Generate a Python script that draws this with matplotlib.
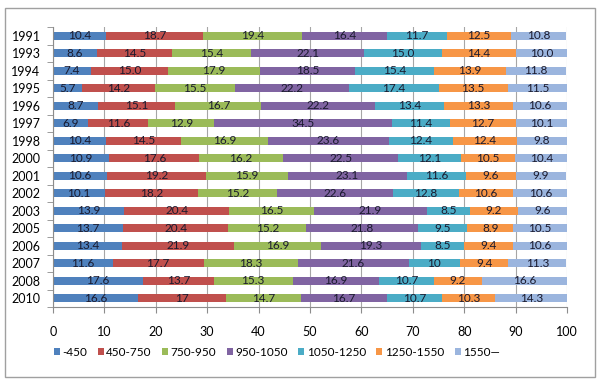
import numpy as np
import matplotlib.pyplot as plt
from matplotlib.patches import Rectangle, Patch

plt.rcParams['font.family'] = ['Lato', 'DejaVu Sans']

years = ['1991', '1993', '1994', '1995', '1996', '1997', '1998', '2000',
         '2001', '2002', '2003', '2005', '2006', '2007', '2008', '2010']

groups = ['-450', '450-750', '750-950', '950-1050', '1050-1250', '1250-1550', '1550\u2014']

# share of each group per year (ints are shown without decimals, as in the source)
s_450 = [10.4, 8.6, 7.4, 5.7, 8.7, 6.9, 10.4, 10.9, 10.6, 10.1, 13.9, 13.7, 13.4, 11.6, 17.6, 16.6]
s_750 = [18.7, 14.5, 15.0, 14.2, 15.1, 11.6, 14.5, 17.6, 19.2, 18.2, 20.4, 20.4, 21.9, 17.7, 13.7, 17]
s_950 = [19.4, 15.4, 17.9, 15.5, 16.7, 12.9, 16.9, 16.2, 15.9, 15.2, 16.5, 15.2, 16.9, 18.3, 15.3, 14.7]
s_1050 = [16.4, 22.1, 18.5, 22.2, 22.2, 34.5, 23.6, 22.5, 23.1, 22.6, 21.9, 21.8, 19.3, 21.6, 16.9, 16.7]
s_1250 = [11.7, 15.0, 15.4, 17.4, 13.4, 11.4, 12.4, 12.1, 11.6, 12.8, 8.5, 9.5, 8.5, 10, 10.7, 10.7]
s_1550 = [12.5, 14.4, 13.9, 13.5, 13.3, 12.7, 12.4, 10.5, 9.6, 10.6, 9.2, 8.9, 9.4, 9.4, 9.2, 10.3]
s_top = [10.8, 10.0, 11.8, 11.5, 10.6, 10.1, 9.8, 10.4, 9.9, 10.6, 9.6, 10.5, 10.6, 11.3, 16.6, 14.3]

series = [s_450, s_750, s_950, s_1050, s_1250, s_1550, s_top]
colors = ['#4F81BD', '#C0504D', '#9BBB59', '#8064A2', '#4BACC6', '#F79646', '#9BB5DE']

fig = plt.figure(figsize=(5.99, 3.79), dpi=100)
ax = fig.add_axes([53 / 599, 1 - 307 / 379, (567 - 53) / 599, (307 - 27) / 379])

y = np.arange(len(years))
left = np.zeros(len(years))
for vals, col in zip(series, colors):
    v = np.array(vals, dtype=float)
    ax.barh(y, v, left=left, height=0.48, color=col, edgecolor='none', zorder=2)
    for yi, (l, val, raw) in enumerate(zip(left, v, vals)):
        txt = str(raw) if isinstance(raw, int) else '%.1f' % raw
        ax.text(l + val / 2, yi, txt, ha='center', va='center', fontsize=8.5,
                color='#1a1a2e', zorder=4)
    left += v

ax.set_xlim(0, 100)
ax.set_ylim(len(years) - 0.5, -0.5)
ax.set_xticks(np.arange(0, 101, 10))
ax.set_yticks(y)
ax.set_yticklabels(years, fontsize=9)
ax.set_yticks(np.arange(-0.5, len(years)), minor=True)
ax.tick_params(axis='y', which='major', length=0, pad=9)
ax.tick_params(axis='y', which='minor', length=4, color='#8c8c8c', direction='out')
ax.tick_params(axis='x', length=4, color='#8c8c8c', direction='out', pad=10, labelsize=9)
ax.grid(axis='x', color='#a6a6a6', lw=0.8, zorder=3)
for side in ['top', 'right']:
    ax.spines[side].set_visible(False)
ax.spines['left'].set_color('#8c8c8c')
ax.spines['bottom'].set_color('#8c8c8c')

handles = [Patch(facecolor=c, edgecolor='none') for c in colors]
fig.legend(handles, groups, loc='center', bbox_to_anchor=(277 / 599, 1 - 352 / 379),
           ncol=7, frameon=False, fontsize=8.5, handlelength=0.5, handleheight=0.5,
           handletextpad=0.2, columnspacing=0.9)

fig.patches.append(Rectangle((5 / 599, 1 - 377 / 379), 590 / 599, 369 / 379,
                             transform=fig.transFigure, fill=False,
                             edgecolor='#a0a0a0', lw=1))

fig.savefig('out.png', dpi=100)
